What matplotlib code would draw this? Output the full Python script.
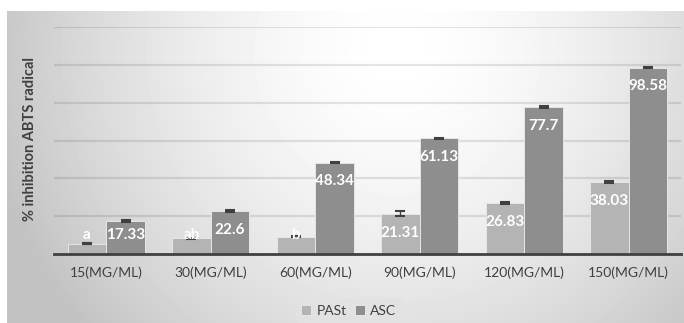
import numpy as np
from matplotlib import pyplot as plt

categories = ["15(MG/ML)", "30(MG/ML)", "60(MG/ML)", "90(MG/ML)", "120(MG/ML)", "150(MG/ML)"]
past = [5.5, 8.2, 9.1, 21.31, 26.83, 38.03]
past_err = [0.4, 0.3, 0.3, 1.3, 0.5, 0.6]
asc = [17.33, 22.6, 48.34, 61.13, 77.7, 98.58]
asc_err = [0.4, 0.5, 0.4, 0.3, 0.3, 0.3]
past_labels = ["a", "ab", "b", "21.31", "26.83", "38.03"]
asc_labels = ["17.33", "22.6", "48.34", "61.13", "77.7", "98.58"]

PAST_COLOR = "#b4b4b4"
ASC_COLOR = "#8e8e8e"
TEXT = "#404040"


def background(fig):
    # soft radial shading behind the plot
    bg = fig.add_axes([7 / 684, 0, 1 - 7 / 684, 312 / 323], zorder=-10)
    h, w = 312, 677
    yy, xx = np.mgrid[0:h, 0:w]
    r = np.sqrt(((xx - 390) / 420.0) ** 2 + ((yy - 40) / 420.0) ** 2)
    v = 1 - 0.24 * np.clip(r, 0, 1.2) ** 1.6
    v = np.clip(v, 0.76, 1)
    bg.imshow(v, cmap="gray", vmin=0, vmax=1, aspect="auto", interpolation="bilinear")
    bg.axis("off")


def main():
    plt.rcParams["font.family"] = ["Lato", "DejaVu Sans"]
    fig = plt.figure(figsize=(6.84, 3.23), dpi=100)
    fig.patch.set_facecolor("white")
    background(fig)

    ax = fig.add_axes([54 / 684, 69 / 323, 627 / 684, 227 / 323])
    ax.patch.set_alpha(0)
    x = np.arange(len(categories))
    w = 0.37

    ax.bar(x - w / 2, past, w, color=PAST_COLOR, edgecolor="#e6e6e6", linewidth=0.7,
           label="PASt", zorder=3)
    ax.bar(x + w / 2, asc, w, color=ASC_COLOR, edgecolor="#e6e6e6", linewidth=0.7,
           label="ASC", zorder=3)
    ax.errorbar(x - w / 2, past, yerr=past_err, fmt="none", ecolor=TEXT,
                elinewidth=1, capsize=3.4, capthick=1.5, zorder=4)
    ax.errorbar(x + w / 2, asc, yerr=asc_err, fmt="none", ecolor=TEXT,
                elinewidth=1, capsize=3.4, capthick=1.5, zorder=4)

    # labels sit just under the bar top, never below the floor line
    for xi, v, s in zip(x - w / 2, past, past_labels):
        ax.text(xi, max(v - 10, 10), s, ha="center", va="center", color="white",
                fontsize=11, fontweight="bold", zorder=5)
    for xi, v, s in zip(x + w / 2, asc, asc_labels):
        ax.text(xi, max(v - 10, 10), s, ha="center", va="center", color="white",
                fontsize=11, fontweight="bold", zorder=5)

    ax.set_xlim(-0.5, len(categories) - 0.5)
    ax.set_ylim(0, 120)
    ax.set_yticks(np.arange(20, 121, 20))
    ax.yaxis.grid(True, color="black", alpha=0.1, linewidth=1.6)
    ax.set_axisbelow(True)
    ax.tick_params(axis="y", length=0, labelleft=False)
    ax.set_xticks(x)
    ax.set_xticklabels(categories, color=TEXT, fontsize=10)
    ax.tick_params(axis="x", length=0, pad=9)
    for s in ["top", "right", "left"]:
        ax.spines[s].set_visible(False)
    ax.spines["bottom"].set_color("#404040")
    ax.spines["bottom"].set_linewidth(2)
    ax.spines["bottom"].set_zorder(6)

    fig.text(30 / 684, 1 - 139 / 323, "% inhibition ABTS radical", rotation=90,
             ha="center", va="center", color=TEXT, fontsize=10.5, fontweight="bold")

    leg = fig.legend(loc="center", bbox_to_anchor=(349 / 684, 1 - 311 / 323), ncol=2,
                     frameon=True, fontsize=10, handlelength=0.7, handleheight=0.7,
                     handletextpad=0.4, columnspacing=0.6, borderpad=0.4)
    leg.get_frame().set_facecolor("#e2e2e2")
    leg.get_frame().set_edgecolor("none")
    leg.get_frame().set_alpha(0.8)
    for t in leg.get_texts():
        t.set_color(TEXT)

    plt.savefig("out.png", dpi=100)


if __name__ == "__main__":
    main()
